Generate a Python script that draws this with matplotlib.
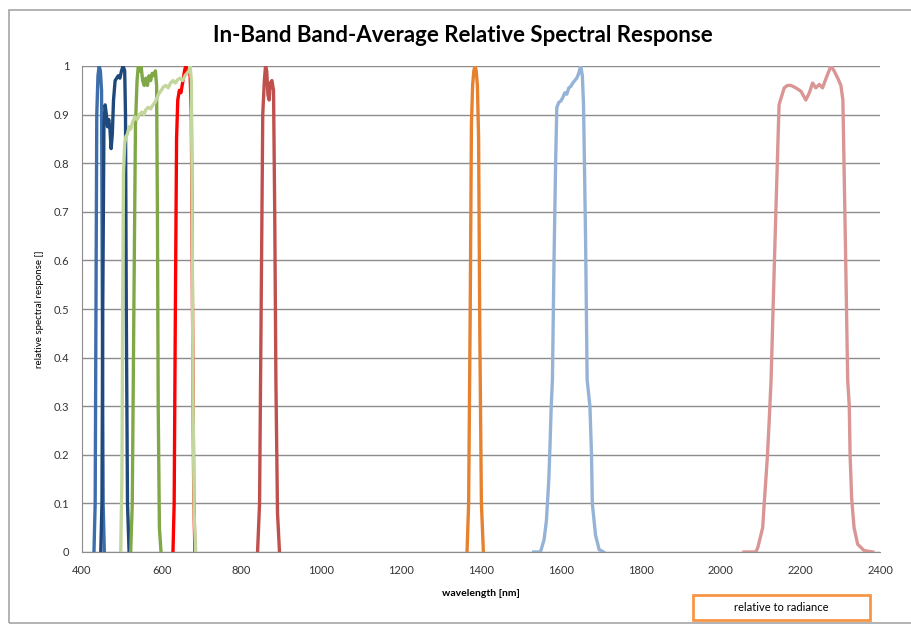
import matplotlib
matplotlib.use("Agg")
import matplotlib.pyplot as plt
from matplotlib.patches import Rectangle

plt.rcParams['font.family'] = ['Lato', 'DejaVu Sans']

# band response curves (wavelength nm, relative response)
b1_wl = [430, 433, 435, 437, 440, 443, 446, 449, 451, 453, 456]
b1_rsr = [0, 0.1, 0.5, 0.9, 0.98, 1.0, 0.99, 0.95, 0.5, 0.1, 0]

b2_wl = [447, 450, 452, 455, 458, 461, 464, 467, 470, 473, 476, 479, 483, 487,
         491, 495, 499, 503, 507, 509, 511, 514, 518]
b2_rsr = [0, 0.1, 0.5, 0.88, 0.92, 0.9, 0.875, 0.89, 0.87, 0.83, 0.86, 0.93,
          0.97, 0.975, 0.98, 0.975, 0.99, 1.0, 0.99, 0.9, 0.5, 0.1, 0]

b3_wl = [522, 526, 530, 534, 538, 541, 545, 548, 552, 556, 560, 564, 568, 572,
         576, 580, 584, 587, 589, 591, 594, 598]
b3_rsr = [0, 0.1, 0.5, 0.88, 0.97, 1.0, 0.99, 1.0, 0.97, 0.96, 0.975, 0.96,
          0.98, 0.97, 0.985, 0.98, 0.99, 0.96, 0.7, 0.3, 0.05, 0]

b4_wl = [628, 631, 634, 637, 640, 644, 648, 651, 654, 657, 660, 663, 667, 671,
         674, 677, 680, 683]
b4_rsr = [0, 0.1, 0.5, 0.85, 0.93, 0.95, 0.945, 0.96, 0.975, 0.99, 1.0, 0.99,
          0.995, 0.98, 0.9, 0.5, 0.12, 0]

b5_wl = [840, 845, 849, 853, 857, 860, 863, 866, 869, 872, 876, 880, 883, 886,
         890, 895]
b5_rsr = [0, 0.1, 0.5, 0.9, 0.97, 1.0, 0.99, 0.94, 0.93, 0.965, 0.97, 0.95,
          0.7, 0.35, 0.08, 0]

b6_wl = [1532, 1549, 1558, 1564, 1570, 1573, 1576, 1579, 1583, 1587, 1590,
         1595, 1600, 1605, 1610, 1615, 1620, 1625, 1630, 1635, 1640, 1645,
         1650, 1654, 1657, 1662, 1666, 1673, 1677, 1679, 1687, 1696, 1707]
b6_rsr = [0, 0, 0.025, 0.065, 0.15, 0.22, 0.3, 0.354, 0.6, 0.8, 0.915, 0.925,
          0.928, 0.935, 0.945, 0.942, 0.955, 0.958, 0.965, 0.97, 0.975, 0.985,
          1.0, 0.98, 0.92, 0.65, 0.354, 0.3, 0.2, 0.1, 0.035, 0.005, 0]

b7_wl = [2059, 2089, 2094, 2106, 2109, 2114, 2118, 2122, 2127, 2132, 2139,
         2147, 2152, 2160, 2168, 2177, 2189, 2202, 2214, 2223, 2231, 2239,
         2248, 2256, 2265, 2277, 2285, 2294, 2302, 2307, 2313, 2319, 2323,
         2325, 2329, 2335, 2344, 2360, 2382]
b7_rsr = [0, 0, 0.01, 0.05, 0.09, 0.15, 0.2, 0.265, 0.354, 0.5, 0.7, 0.92,
          0.934, 0.955, 0.96, 0.96, 0.955, 0.948, 0.93, 0.945, 0.965, 0.955,
          0.962, 0.955, 0.975, 1.0, 0.99, 0.975, 0.96, 0.93, 0.65, 0.354, 0.3,
          0.2, 0.11, 0.05, 0.016, 0.003, 0]

b8_wl = [497, 500, 502, 504, 507, 510, 514, 518, 522, 527, 533, 538, 544, 550,
         555, 560, 566, 572, 578, 583, 588, 594, 599, 604, 610, 616, 622, 628,
         634, 640, 646, 652, 658, 663, 668, 671, 674, 676, 678, 681, 685]
b8_rsr = [0, 0.15, 0.5, 0.78, 0.84, 0.855, 0.86, 0.875, 0.87, 0.885, 0.895,
          0.89, 0.9, 0.905, 0.9, 0.91, 0.915, 0.912, 0.92, 0.925, 0.935, 0.945,
          0.95, 0.957, 0.96, 0.955, 0.965, 0.97, 0.965, 0.972, 0.975, 0.97,
          0.98, 0.985, 0.99, 1.0, 0.97, 0.7, 0.35, 0.08, 0]

b9_wl = [1365, 1369, 1373, 1376, 1379, 1382, 1385, 1388, 1391, 1394, 1397,
         1401, 1406]
b9_rsr = [0, 0.1, 0.5, 0.88, 0.96, 0.99, 1.0, 0.99, 0.96, 0.85, 0.45, 0.1, 0]

bands = [
    (b1_wl, b1_rsr, '#3D6DAA'),
    (b2_wl, b2_rsr, '#1F497D'),
    (b3_wl, b3_rsr, '#80A846'),
    (b4_wl, b4_rsr, '#FF0000'),
    (b5_wl, b5_rsr, '#C0504D'),
    (b6_wl, b6_rsr, '#95B3D7'),
    (b7_wl, b7_rsr, '#D99694'),
    (b8_wl, b8_rsr, '#C3D69B'),
    (b9_wl, b9_rsr, '#E6822F'),
]

x_ticks = list(range(400, 2401, 200))
y_ticks = [0, 0.1, 0.2, 0.3, 0.4, 0.5, 0.6, 0.7, 0.8, 0.9, 1]
y_tick_labels = ['0', '0.1', '0.2', '0.3', '0.4', '0.5', '0.6', '0.7', '0.8', '0.9', '1']

fig = plt.figure(figsize=(9.11, 6.25), dpi=100)
ax = fig.add_axes([82 / 911, 1 - 552 / 625, (880 - 82) / 911, (552 - 66) / 625])

for wl, rsr, col in bands:
    ax.plot(wl, rsr, color=col, lw=2.4, solid_joinstyle='round')

ax.set_xlim(400, 2400)
ax.set_ylim(0, 1)
ax.set_xticks(x_ticks)
ax.set_yticks(y_ticks)
ax.set_yticklabels(y_tick_labels)
ax.tick_params(length=0, labelsize=8, colors='#333333', pad=9)
ax.grid(axis='y', color='#8c8c8c', lw=1)
ax.set_axisbelow(True)
for s in ['top', 'right']:
    ax.spines[s].set_visible(False)
for s in ['left', 'bottom']:
    ax.spines[s].set_color('#8c8c8c')

ax.set_xlabel('wavelength [nm]', fontsize=7.5, fontweight='bold', labelpad=10)
ax.set_ylabel('relative spectral response []', fontsize=7, labelpad=7)

fig.text(463 / 911, 1 - 35 / 625, 'In-Band Band-Average Relative Spectral Response',
         ha='center', va='center', fontsize=16, fontweight='bold')

# outer chart frame
fig.patches.append(Rectangle((9 / 911, 1 - 623 / 625), 1.0, 613 / 625,
                             transform=fig.transFigure, fill=False,
                             edgecolor='#a6a6a6', lw=1.2))

# box with the note below the plot
fig.patches.append(Rectangle((693 / 911, 1 - 620 / 625), 177 / 911, 25 / 625,
                             transform=fig.transFigure, fill=False,
                             edgecolor='#F79646', lw=2))
fig.text(781 / 911, 1 - 607.5 / 625, 'relative to radiance', ha='center',
         va='center', fontsize=8)

fig.savefig('out.png', dpi=100)
